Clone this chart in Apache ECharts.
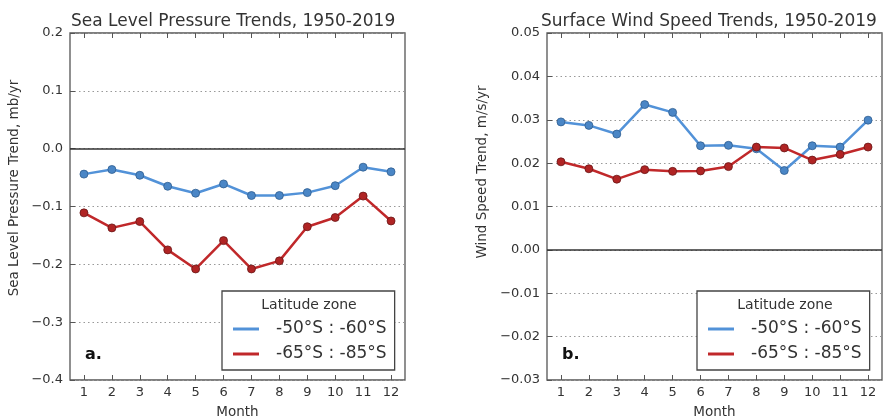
<!DOCTYPE html>
<html>
<head>
<meta charset="utf-8">
<script src="https://cdn.jsdelivr.net/npm/echarts@6/dist/echarts.min.js"></script>
<style>html,body{margin:0;padding:0;background:#fff}#c{width:887px;height:417px}</style>
</head>
<body>
<div id="c"></div>
<script>
const months = ['1','2','3','4','5','6','7','8','9','10','11','12'];
const seriesNames = ['-50°S : -60°S', '-65°S : -85°S'];
const slpNorth = [-0.044, -0.036, -0.046, -0.065, -0.077, -0.061, -0.081, -0.081, -0.076, -0.064, -0.032, -0.040];
const slpSouth = [-0.111, -0.137, -0.126, -0.175, -0.208, -0.159, -0.208, -0.194, -0.135, -0.119, -0.082, -0.125];
const wsNorth = [0.0295, 0.0287, 0.0267, 0.0335, 0.0317, 0.0240, 0.0241, 0.0233, 0.0183, 0.0240, 0.0237, 0.0299];
const wsSouth = [0.0203, 0.0187, 0.0163, 0.0185, 0.0181, 0.0182, 0.0192, 0.0237, 0.0235, 0.0207, 0.0220, 0.0237];
const titles = ['Sea Level Pressure Trends, 1950-2019', 'Surface Wind Speed Trends, 1950-2019'];
const yNames = ['Sea Level Pressure Trend, mb/yr', 'Wind Speed Trend, m/s/yr'];

const FONT = 'DejaVu Sans';
const TXT = '#333';
const BLUE = '#5292d8', BLUE_M = '#4a86c6', BLUE_E = '#2f5d8f';
const RED = '#c0282a', RED_M = '#b02424', RED_E = '#6a1616';
const G = [{left: 70, top: 33, width: 335, height: 347}, {left: 547, top: 33, width: 335, height: 347}];

function fmt(d) {
  return v => { let s = Math.abs(v) < 1e-9 ? (0).toFixed(d) : v.toFixed(d); return s.replace('-', '\u2212'); };
}

const grid = G.map(g => Object.assign({show: true, borderColor: '#555', borderWidth: 1.3, backgroundColor: '#fff',
  containLabel: false, outerBoundsMode: 'none'}, g));
const xAxis = [];
const yAxis = [];
[0, 1].forEach(i => {
  xAxis.push({type: 'category', gridIndex: i, data: months, boundaryGap: true, position: 'bottom',
    axisLine: {show: false, onZero: false},
    axisTick: {show: true, inside: true, alignWithLabel: true, length: 5, lineStyle: {color: '#555'}},
    axisLabel: {fontFamily: FONT, fontSize: 13, color: TXT, margin: 6},
    name: 'Month', nameLocation: 'middle', nameGap: 25, nameTextStyle: {fontFamily: FONT, fontSize: 13.5, color: TXT},
    splitLine: {show: false}});
  xAxis.push({type: 'category', gridIndex: i, data: months, boundaryGap: true, position: 'top',
    axisLine: {show: false, onZero: false},
    axisTick: {show: true, inside: true, alignWithLabel: true, length: 5, lineStyle: {color: '#555'}},
    axisLabel: {show: false}, splitLine: {show: false}});
});
yAxis.push({type: 'value', gridIndex: 0, min: -0.4, max: 0.2, interval: 0.1,
  axisLine: {show: false}, axisTick: {show: true, inside: true, length: 5, lineStyle: {color: '#555'}},
  axisLabel: {fontFamily: FONT, fontSize: 13, color: TXT, margin: 7, formatter: fmt(1)},
  splitLine: {show: true, lineStyle: {color: '#999', type: [1.5, 3], width: 1}}});
yAxis.push({type: 'value', gridIndex: 1, min: -0.03, max: 0.05, interval: 0.01,
  axisLine: {show: false}, axisTick: {show: true, inside: true, length: 5, lineStyle: {color: '#555'}},
  axisLabel: {fontFamily: FONT, fontSize: 13, color: TXT, margin: 7, formatter: fmt(2)},
  splitLine: {show: true, lineStyle: {color: '#999', type: [1.5, 3], width: 1}}});

function line(name, data, gi, color, mcol, ecol, zero) {
  const s = {name, type: 'line', xAxisIndex: gi * 2, yAxisIndex: gi, data,
    symbol: 'circle', symbolSize: 8, lineStyle: {color, width: 2.5},
    itemStyle: {color: mcol, borderColor: ecol, borderWidth: 0.8}, z: 5, animation: false};
  if (zero) s.markLine = {silent: true, symbol: 'none', label: {show: false}, animation: false,
    data: [{yAxis: 0}], lineStyle: {color: '#333', type: 'solid', width: 1.5}};
  return s;
}

const series = [
  line(seriesNames[0], slpNorth, 0, BLUE, BLUE_M, BLUE_E, true),
  line(seriesNames[1], slpSouth, 0, RED, RED_M, RED_E, false),
  line(seriesNames[0], wsNorth, 1, BLUE, BLUE_M, BLUE_E, true),
  line(seriesNames[1], wsSouth, 1, RED, RED_M, RED_E, false)
];

function legend(left) {
  return {orient: 'vertical', left, top: 291, padding: [28, 8, 6, 11], itemGap: 5,
    backgroundColor: '#fff', borderColor: '#444', borderWidth: 1.3, borderRadius: 0,
    itemWidth: 26, itemHeight: 3, icon: 'rect', selectedMode: false,
    data: [{name: seriesNames[0], itemStyle: {color: BLUE, borderWidth: 0}},
           {name: seriesNames[1], itemStyle: {color: RED, borderWidth: 0}}],
    textStyle: {fontFamily: FONT, fontSize: 17, color: TXT, lineHeight: 20, padding: [0, 0, 0, 12]}};
}

const graphic = [
  {type: 'text', left: 71, top: 13, style: {text: titles[0], font: '17px "DejaVu Sans"', fill: TXT}},
  {type: 'text', left: 541, top: 13, style: {text: titles[1], font: '17px "DejaVu Sans"', fill: TXT}},
  {type: 'text', x: 14, y: 188, rotation: Math.PI / 2, style: {text: yNames[0], font: '13.5px "DejaVu Sans"', fill: TXT, align: 'center', verticalAlign: 'middle'}},
  {type: 'text', x: 482, y: 172, rotation: Math.PI / 2, style: {text: yNames[1], font: '13.5px "DejaVu Sans"', fill: TXT, align: 'center', verticalAlign: 'middle'}},
  {type: 'text', x: 309, y: 305, z: 100, style: {text: 'Latitude zone', font: '14px "DejaVu Sans"', fill: TXT, align: 'center', verticalAlign: 'middle'}},
  {type: 'text', x: 785, y: 305, z: 100, style: {text: 'Latitude zone', font: '14px "DejaVu Sans"', fill: TXT, align: 'center', verticalAlign: 'middle'}},
  {type: 'text', x: 85, y: 355, z: 100, style: {text: 'a.', font: 'bold 16px "DejaVu Sans"', fill: '#111', verticalAlign: 'middle'}},
  {type: 'text', x: 562, y: 355, z: 100, style: {text: 'b.', font: 'bold 16px "DejaVu Sans"', fill: '#111', verticalAlign: 'middle'}}
];

const chart = echarts.init(document.getElementById('c'), null, {renderer: 'canvas'});
chart.setOption({animation: false, grid, xAxis, yAxis, series, legend: [legend(222), legend(697)], graphic});
</script>
</body>
</html>
